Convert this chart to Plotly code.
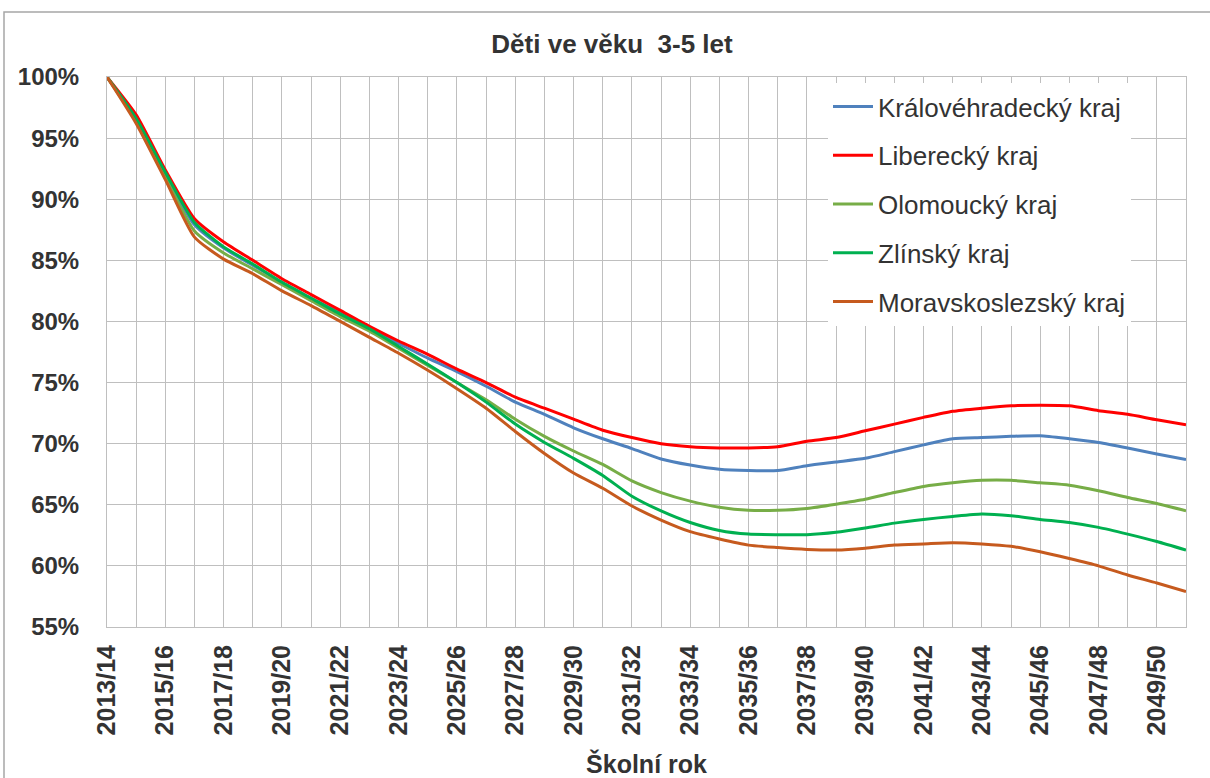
import plotly.graph_objects as go

categories = ["2013/14", "2014/15", "2015/16", "2016/17", "2017/18", "2018/19", "2019/20",
              "2020/21", "2021/22", "2022/23", "2023/24", "2024/25", "2025/26", "2026/27",
              "2027/28", "2028/29", "2029/30", "2030/31", "2031/32", "2032/33", "2033/34",
              "2034/35", "2035/36", "2036/37", "2037/38", "2038/39", "2039/40", "2040/41",
              "2041/42", "2042/43", "2043/44", "2044/45", "2045/46", "2046/47", "2047/48",
              "2048/49", "2049/50", "2050/51"]

kralovehradecky = [100, 96.5, 92.0, 87.9, 86.0, 84.6, 83.2, 81.9, 80.7, 79.4, 78.2, 77.0, 75.9,
                   74.7, 73.4, 72.4, 71.3, 70.4, 69.6, 68.75, 68.25, 67.9, 67.8, 67.8, 68.2,
                   68.5, 68.8, 69.35, 69.9, 70.4, 70.5, 70.6, 70.65, 70.4, 70.1, 69.65, 69.15, 68.7]
liberecky = [100, 96.9, 92.4, 88.4, 86.5, 85.0, 83.5, 82.2, 80.9, 79.6, 78.4, 77.3, 76.1, 75.0,
             73.8, 72.9, 72.0, 71.1, 70.5, 70.0, 69.75, 69.65, 69.65, 69.75, 70.2, 70.5, 71.05,
             71.6, 72.15, 72.65, 72.9, 73.1, 73.15, 73.1, 72.7, 72.4, 71.95, 71.55]
olomoucky = [100, 96.4, 91.8, 87.4, 85.6, 84.3, 83.0, 81.7, 80.4, 79.2, 77.8, 76.4, 75.0, 73.6,
             72.0, 70.6, 69.4, 68.3, 66.95, 66.0, 65.3, 64.8, 64.55, 64.55, 64.7, 65.05, 65.45,
             66.0, 66.5, 66.8, 67.0, 67.0, 66.8, 66.6, 66.15, 65.6, 65.1, 64.5]
zlinsky = [100, 96.6, 92.2, 88.1, 86.1, 84.7, 83.2, 81.9, 80.6, 79.4, 77.95, 76.5, 75.0, 73.4,
           71.6, 70.1, 68.8, 67.4, 65.7, 64.5, 63.55, 62.9, 62.6, 62.55, 62.55, 62.75, 63.1,
           63.5, 63.8, 64.05, 64.25, 64.1, 63.8, 63.55, 63.15, 62.6, 62.0, 61.3]
moravskoslezsky = [100, 96.2, 91.6, 86.9, 85.1, 83.9, 82.5, 81.3, 80.0, 78.7, 77.4, 76.0, 74.5,
                   72.9, 71.0, 69.2, 67.6, 66.35, 64.9, 63.75, 62.8, 62.2, 61.7, 61.5, 61.35,
                   61.3, 61.45, 61.7, 61.8, 61.9, 61.8, 61.6, 61.15, 60.6, 60.0, 59.25, 58.6, 57.9]

series_names = ["Královéhradecký kraj", "Liberecký kraj", "Olomoucký kraj", "Zlínský kraj",
                "Moravskoslezský kraj"]
series_values = [kralovehradecky, liberecky, olomoucky, zlinsky, moravskoslezsky]
series_colors = ["#4F81BD", "#FF0000", "#77AD47", "#00B050", "#C65A1E"]

tick_text = [c if i % 2 == 0 else "" for i, c in enumerate(categories)]

W, H = 1210, 778
L, R, T, B = 107, 1186, 77, 627

fig = go.Figure()
for name, vals, col in zip(series_names, series_values, series_colors):
    fig.add_trace(go.Scatter(
        x=categories, y=vals, name=name, mode="lines",
        line=dict(color=col, width=3, shape="spline", smoothing=0.6),
        legendgroup=name,
    ))

def px_x(p):
    return (p - L) / (R - L)

def px_y(p):
    return (B - p) / (B - T)

grid = "#BFBFBF"
fig.update_layout(
    width=W, height=H,
    margin=dict(l=L, r=W - R, t=T, b=H - B, pad=0),
    paper_bgcolor="white", plot_bgcolor="white",
    font=dict(family="Liberation Sans, Arial, sans-serif", color="#333333"),
    title=dict(text="<b>Děti ve věku  3-5 let</b>", x=612 / W, xref="container",
               xanchor="center", y=1 - 44 / H, yref="container", yanchor="middle",
               font=dict(size=26, color="#333333")),
    showlegend=True,
    legend=dict(
        x=px_x(828), y=px_y(83), xanchor="left", yanchor="top",
        bgcolor="white", borderwidth=0,
        font=dict(size=26, color="#333333"),
        tracegroupgap=12, itemwidth=40,
    ),
    xaxis=dict(
        type="category", range=[0, len(categories) - 1],
        tickmode="array", tickvals=categories, ticktext=tick_text,
        tickangle=-90, tickfont=dict(size=25, color="#333333", weight="bold"),
        showgrid=True, gridcolor=grid, gridwidth=1,
        showline=True, linecolor=grid, linewidth=1, mirror=True,
        ticks="", ticklabelstandoff=7,
        title=dict(text="<b>Školní rok</b>", font=dict(size=25, color="#333333"), standoff=22),
        automargin=False, fixedrange=True,
    ),
    yaxis=dict(
        range=[55, 100], dtick=5, tick0=55, ticksuffix="%",
        tickfont=dict(size=24, color="#333333", weight="bold"),
        showgrid=True, gridcolor=grid, gridwidth=1,
        showline=True, linecolor=grid, linewidth=1, mirror=True,
        ticks="", ticklabelstandoff=22, zeroline=False,
        automargin=False, fixedrange=True,
    ),
    shapes=[dict(type="rect", xref="paper", yref="paper",
                 x0=px_x(4), x1=px_x(W + 20), y0=px_y(H + 20), y1=px_y(12),
                 line=dict(color="#A6A6A6", width=1.5), fillcolor="rgba(0,0,0,0)",
                 layer="below")],
)

fig.write_html("out.html", config={"displayModeBar": False},
               post_script="document.body.style.margin='0';document.body.style.overflow='hidden';")
